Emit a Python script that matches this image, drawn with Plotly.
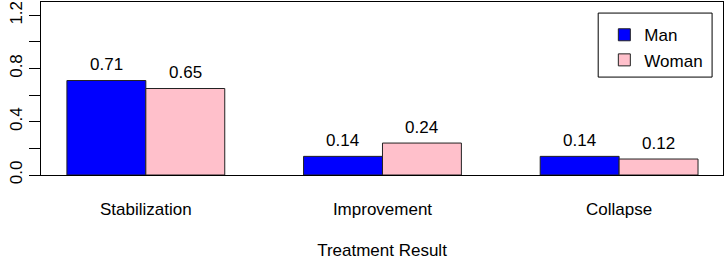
import plotly.graph_objects as go

categories = ["Stabilization", "Improvement", "Collapse"]
man = [0.71, 0.14, 0.14]
woman = [0.65, 0.24, 0.12]
series_names = ["Man", "Woman"]
y_tickvals = [0.0, 0.2, 0.4, 0.6, 0.8, 1.0, 1.2]
y_ticktext = ["0.0", "", "0.4", "", "0.8", "", "1.2"]

FONT = "Liberation Sans, Arial, sans-serif"
FS = 17

fig = go.Figure()
fig.add_trace(go.Bar(x=categories, y=man, name=series_names[0],
                     marker=dict(color="#0000FF", line=dict(color="#222222", width=1))))
fig.add_trace(go.Bar(x=categories, y=woman, name=series_names[1],
                     marker=dict(color="#FFC0CB", line=dict(color="#222222", width=1))))

# value labels above bars
for vals, shift in ((man, -39.5), (woman, 39.5)):
    for c, v in zip(categories, vals):
        fig.add_annotation(x=c, y=v, text=f"{v:.2f}", showarrow=False,
                           xshift=shift, yshift=16, font=dict(size=FS, color="black", family=FONT))

# legend frame
fig.add_shape(type="rect", xref="paper", yref="paper", x0=0.817, x1=0.984, y0=0.566, y1=0.936,
              line=dict(color="black", width=1), fillcolor="white", layer="above")

fig.update_layout(
    width=726, height=260,
    margin=dict(l=41, r=3, t=2, b=85),
    paper_bgcolor="white", plot_bgcolor="white",
    barmode="group", bargap=0.333, bargroupgap=0,
    font=dict(family=FONT, size=FS, color="black"),
    showlegend=True,
    legend=dict(x=0.826, y=0.912, xanchor="left", yanchor="top",
                borderwidth=0, bgcolor="rgba(0,0,0,0)",
                font=dict(size=FS), tracegroupgap=0, itemwidth=30),
)
fig.update_xaxes(range=[-0.443, 2.439], showline=True, linecolor="black", linewidth=1,
                 mirror=True, ticks="", showgrid=False, ticklabelstandoff=19, automargin=False,
                 title=dict(text="Treatment Result", standoff=29, font=dict(size=FS)))
fig.update_yaxes(range=[0, 1.3], showline=True, linecolor="black", linewidth=1,
                 mirror=True, ticks="outside", ticklen=11, tickcolor="black", automargin=False,
                 tickvals=y_tickvals, ticktext=y_ticktext, tickangle=-90,
                 showgrid=False, zeroline=False, tickfont=dict(size=FS))

fig.write_html("out.html", config={"displayModeBar": False},
               post_script="document.body.style.margin='0';")
